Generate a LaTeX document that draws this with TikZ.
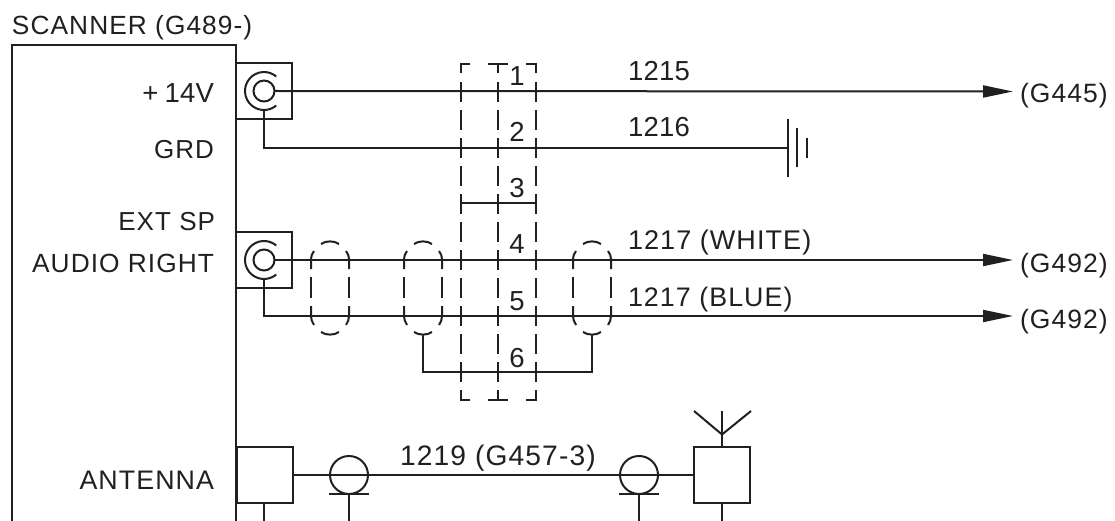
\documentclass[tikz,border=0pt]{standalone}
\usepackage{fontspec}
\setmainfont{Liberation Sans}[LetterSpace=4]
\newfontfamily\numfont{Liberation Sans}[LetterSpace=1]
\usetikzlibrary{arrows.meta}
\definecolor{ink}{HTML}{231F20}
\newcommand{\fsz}[1]{\fontsize{#1}{#1}\selectfont}
\tikzset{
  wire/.style={draw=ink,line width=2pt},
  thick wire/.style={draw=ink,line width=2.3pt},
  boxn/.style={draw=ink,line width=2pt,rectangle,minimum size=56pt,inner sep=0pt,outer sep=0pt},
  inner coax/.style={draw=ink,line width=2pt,circle,minimum size=21pt,inner sep=0pt,outer sep=0pt},
  outer coax/.style={circle,minimum size=38pt,inner sep=0pt,outer sep=0pt},
  balun/.style={draw=ink,line width=2pt,circle,minimum size=38pt,inner sep=0pt,outer sep=0pt},
  lbl/.style={text=ink,font=\fsz{26},inner sep=0pt,outer sep=0pt,anchor=base west},
  lblr/.style={lbl,anchor=base east},
  lblc/.style={lbl,anchor=base},
  numl/.style={font=\numfont\fsz{27.5}},
  tip/.style={-{Stealth[length=30pt,width=12pt,inset=0pt]}},
}
\newcommand{\shieldat}[1]{%
  \begin{scope}[xshift=#1pt]
    \draw[wire] (-9,244) .. controls (-4,240.5) and (4,240.5) .. (9,244);
    \draw[wire] (-16,251) .. controls (-18,254) and (-19,256) .. (-19,259) -- (-19,269);
    \draw[wire] (16,251) .. controls (18,254) and (19,256) .. (19,259) -- (19,269);
    \draw[wire] (-19,277) -- (-19,298);
    \draw[wire] (19,277) -- (19,298);
    \draw[wire] (-19,306) -- (-19,316) .. controls (-19,319) and (-18,322) .. (-16,325);
    \draw[wire] (19,306) -- (19,316) .. controls (19,319) and (18,322) .. (16,325);
    \draw[wire] (-9,332) .. controls (-4,335.5) and (4,335.5) .. (9,332);
  \end{scope}}
\newcommand{\columnat}[1]{%
  \foreach \ya/\yb in {82/102,110/130,138/158,166/186,194/214,222/242,250/270,278/298,306/326,334/354,362/382}
    \draw[wire] (#1,\ya) -- (#1,\yb);}
\begin{document}
\begin{tikzpicture}[x=1pt,y=-1pt]
\useasboundingbox (0,0) rectangle (1115,521);
% scanner
\coordinate (sb1) at (12,521);
\coordinate (sb2) at (12,45);
\coordinate (sb3) at (236,45);
\coordinate (sb4) at (236,521);
\draw[thick wire] (sb1) -- (sb2) -- (sb3) -- (sb4);
\node[lbl,font=\fsz{26.3}] (scanner) at (12,35) {SCANNER (G489-)};
\node[lblr,numl] (v14) at (214,103) {+\hspace{6pt}14V};
\node[lblr] (grd) at (214,159) {GRD};
\node[lblr] (ext) at (215,230.5) {EXT SP};
\node[lblr,font=\fsz{26.3}] (aud) at (214,272) {AUDIO RIGHT};
\node[lblr,font=\fsz{26.8}] (ant) at (214,489) {ANTENNA};
% connectors
\node[boxn] (b1) at (264,91) {};
\node[boxn] (b2) at (264,260) {};
\node[inner coax] (c1) at (264,91) {};
\node[inner coax] (c2) at (264,260) {};
\node[outer coax] (o1) at (264,91) {};
\node[outer coax] (o2) at (264,260) {};
\draw[wire] (o1.50) arc[start angle=50,end angle=310,radius=19pt];
\draw[wire] (o2.50) arc[start angle=50,end angle=310,radius=19pt];
% far labels
\node[lbl,font=\fsz{26.5}] (g445) at (1020,103) {(G445)};
\node[lbl,font=\fsz{26.5}] (g492a) at (1020,272) {(G492)};
\node[lbl,font=\fsz{26.5}] (g492b) at (1020,328) {(G492)};
\coordinate (e1) at (1013,91.5);
\coordinate (e4) at (1013,260);
\coordinate (e5) at (1013,316);
\draw[wire,tip] (c1.east) -- (e1);
\draw[wire,tip] (c2.east) -- (e4);
\draw[wire,tip] (o2.south) |- (e5);
% ground
\coordinate (gnd) at (788,148);
\draw[wire] (o1.south) |- (gnd);
\draw[wire] (788,119) -- (788,177);
\draw[wire] (797,128) -- (797,167);
\draw[wire] (806.5,138) -- (806.5,158);
% dashed column block
\columnat{461}\columnat{498}\columnat{535.5}
\draw[wire] (470,64) -- (461,64) -- (461,73);
\draw[wire] (526,64) -- (535.5,64) -- (535.5,73);
\draw[wire] (488,64) -- (508,64);
\draw[wire] (498,64) -- (498,73);
\draw[wire] (470,400) -- (461,400) -- (461,390);
\draw[wire] (526,400) -- (535.5,400) -- (535.5,390);
\draw[wire] (488,400) -- (508,400);
\draw[wire] (498,400) -- (498,390);
\coordinate (r3a) at (461,203);
\coordinate (r3b) at (535.5,203);
\draw[wire] (r3a) -- (r3b);
% shields
\shieldat{330}\shieldat{423}\shieldat{592}
\coordinate (t2) at (423,335);
\coordinate (t3) at (592,335);
\coordinate (r6) at (500,372);
\draw[wire] (t2) |- (r6) -| (t3);
% numbers
\node[lblc,numl] (n1) at (517,86) {1};
\node[lblc,numl] (n2) at (517,142) {2};
\node[lblc,numl] (n3) at (517,198) {3};
\node[lblc,numl] (n4) at (517,253) {4};
\node[lblc,numl] (n5) at (517,310.5) {5};
\node[lblc,numl] (n6) at (517,367) {6};
% wire labels
\node[lbl,numl] (w1) at (628,81) {1215};
\node[lbl,numl] (w2) at (628,137) {1216};
\node[lbl,font=\fsz{27}] (w4) at (628,249) {1217 (WHITE)};
\node[lbl,font=\fsz{26.8}] (w5) at (628,306) {1217 (BLUE)};
\node[lbl,font=\fsz{28.2}] (w9) at (400,465) {1219 (G457-3)};
% antenna row
\node[boxn] (b3) at (264.5,475) {};
\node[boxn] (b4) at (722,475) {};
\node[balun] (ba) at (349,475) {};
\node[balun] (bb) at (639,475) {};
\draw[wire] (b3.east) -- (b4.west);
\coordinate (s1) at (264,521);
\draw[wire] (s1) -- (b3.south -| s1);
\coordinate (s2) at (349,521);
\coordinate (s3) at (639,521);
\coordinate (s4) at (722,521);
\draw[wire] (ba.south) -- (s2);
\draw[wire] (bb.south) -- (s3);
\draw[wire] (b4.south) -- (s4);
\draw[wire] (329,494) -- (369,494);
\draw[wire] (619,494) -- (659,494);
\coordinate (apex) at (722,411);
\coordinate (vtx) at (722,434.5);
\coordinate (al) at (694,411);
\coordinate (ar) at (751,411);
\draw[wire] (b4.north) -- (apex);
\draw[wire] (al) -- (vtx) -- (ar);
\end{tikzpicture}
\end{document}
